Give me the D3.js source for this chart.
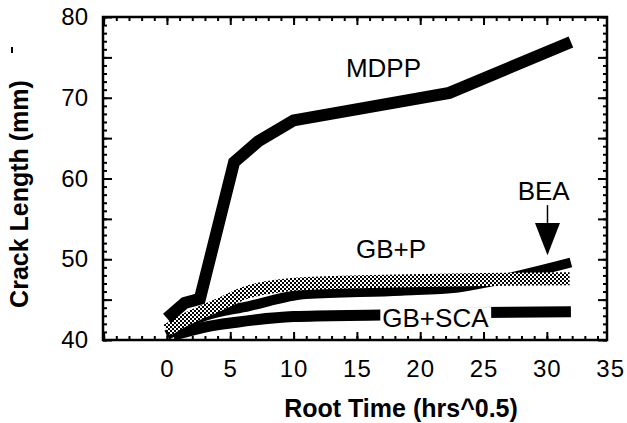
<!DOCTYPE html>
<meta charset="utf-8">
<style>
body{margin:0;background:#fff;}
text{font-family:"Liberation Sans",Arial,sans-serif;fill:#000;}
.tick text{font-size:24px;}
.axis path.domain{display:none;}
.axis line{stroke:#000;stroke-width:2px;}
.title{font-weight:bold;font-size:25px;text-anchor:middle;}
.lbl{font-size:26px;text-anchor:middle;}
.series{fill:none;stroke-linecap:butt;stroke-linejoin:miter;}
</style>
<body>
<script src="https://d3js.org/d3.v7.min.js"></script>
<script>

// crack length vs root time
var mdppX = [0, 1.4, 2.6, 5.3, 7.2, 10.0, 22.3, 31.9];
var mdppY = [42.7, 44.6, 45.1, 62.0, 64.6, 67.2, 70.6, 76.9];
var beaX = [0, 2.5, 6.5, 11, 18.5, 23, 25.5, 31.9];
var beaY = [40.6, 42.7, 44.2, 45.7, 46.1, 46.5, 47.2, 49.6];
var gbpX = [0, 1.3, 4, 6.5, 11, 18, 25, 31.8];
var gbpY = [41.2, 42.4, 44.3, 46.0, 47.0, 47.3, 47.5, 47.6];
var gbscaX = [0.5, 1.5, 3, 5.5, 10, 17, 25, 31.9];
var gbscaY = [40.6, 41.0, 41.6, 42.2, 42.9, 43.1, 43.4, 43.5];

var xLabels = [0, 5, 10, 15, 20, 25, 30, 35];
var yLabels = [40, 50, 60, 70, 80];

var svg = d3.select("body").append("svg").attr("width", 627).attr("height", 423);

var x = d3.scaleLinear().domain([-5.05, 34.75]).range([103, 607]);
var y = d3.scaleLinear().domain([40, 80]).range([340, 17]);

// halftone dots for the grey curve
var defs = svg.append("defs");
var pat = defs.append("pattern").attr("id","dots")
	.attr("patternUnits","userSpaceOnUse").attr("width",4).attr("height",4);
pat.append("rect").attr("width",4).attr("height",4).attr("fill","#fff");
pat.append("rect").attr("width",2).attr("height",2).attr("fill","#000");
pat.append("rect").attr("x",2).attr("y",2).attr("width",2).attr("height",2).attr("fill","#000");

var minorX = d3.range(-5, 35, 1), majorX = d3.range(-5, 35, 5);
var minorY = d3.range(40, 81, 1), majorY = d3.range(40, 81, 5);

function ticks(axis, vals, size){
	return axis.tickValues(vals).tickSize(size).tickFormat("");
}
var th = 340, tt = 17, tl = 103, tr = 607;
svg.append("g").attr("class","axis").attr("transform","translate(0,"+th+")").call(ticks(d3.axisBottom(x), minorX, -4));
svg.append("g").attr("class","axis").attr("transform","translate(0,"+th+")").call(ticks(d3.axisBottom(x), majorX, -8));
svg.append("g").attr("class","axis").attr("transform","translate(0,"+tt+")").call(ticks(d3.axisTop(x), minorX, -4));
svg.append("g").attr("class","axis").attr("transform","translate(0,"+tt+")").call(ticks(d3.axisTop(x), majorX, -8));
svg.append("g").attr("class","axis").attr("transform","translate("+tl+",0)").call(ticks(d3.axisLeft(y), minorY, -4));
svg.append("g").attr("class","axis").attr("transform","translate("+tl+",0)").call(ticks(d3.axisLeft(y), majorY, -9));
svg.append("g").attr("class","axis").attr("transform","translate("+tr+",0)").call(ticks(d3.axisRight(y), minorY, -4));
svg.append("g").attr("class","axis").attr("transform","translate("+tr+",0)").call(ticks(d3.axisRight(y), majorY, -9));

// tick labels
svg.append("g").attr("class","axis").attr("transform","translate(0,"+th+")")
	.call(d3.axisBottom(x).tickValues(xLabels).tickSize(0).tickPadding(20).tickFormat(d3.format("d")))
	.selectAll("text").style("letter-spacing","1px");
svg.append("g").attr("class","axis").attr("transform","translate("+tl+",0)")
	.call(d3.axisLeft(y).tickValues(yLabels).tickSize(0).tickPadding(15).tickFormat(d3.format("d")));

svg.append("rect").attr("x",tl).attr("y",tt).attr("width",tr-tl).attr("height",th-tt)
	.attr("fill","none").attr("stroke","#000").attr("stroke-width",2.5);

function pts(xs, ys){ return xs.map(function(d,i){ return [d, ys[i]]; }); }
var line = d3.line().x(d=>x(d[0])).y(d=>y(d[1]));
var smooth = d3.line().x(d=>x(d[0])).y(d=>y(d[1])).curve(d3.curveMonotoneX);

svg.append("path").attr("class","series").attr("d", smooth(pts(gbscaX, gbscaY)))
	.attr("stroke","#000").attr("stroke-width",11);
svg.append("path").attr("class","series").attr("d", smooth(pts(beaX, beaY)))
	.attr("stroke","#000").attr("stroke-width",10);
svg.append("path").attr("class","series").attr("d", smooth(pts(gbpX, gbpY)))
	.attr("stroke","url(#dots)").attr("stroke-width",13);
svg.append("path").attr("class","series").attr("d", line(pts(mdppX, mdppY)))
	.attr("stroke","#000").attr("stroke-width",12);

// labels
svg.append("text").attr("class","lbl").attr("x",x(17.1)).attr("y",y(72.6)).text("MDPP");
svg.append("text").attr("class","lbl").attr("x",x(17.7)).attr("y",y(50.2)).text("GB+P");
var sca = svg.append("text").attr("class","lbl").attr("x",x(21.2)).attr("y",y(41.6)).text("GB+SCA");
var bb = sca.node().getBBox();
svg.insert("rect", "text.lbl").attr("x",bb.x-2).attr("y",bb.y+4).attr("width",bb.width+4).attr("height",bb.height-8).attr("fill","#fff");
svg.append("text").attr("class","lbl").attr("x",x(29.75)).attr("y",y(57.3)).text("BEA");

// arrow to BEA
svg.append("line").attr("x1",x(30.05)).attr("x2",x(30.05)).attr("y1",y(56.7)).attr("y2",y(54.5))
	.attr("stroke","#000").attr("stroke-width",1.5);
svg.append("path").attr("d","M"+(x(30.05)-12.5)+","+y(54.5)+"L"+(x(30.05)+12.5)+","+y(54.5)+"L"+x(30.05)+","+y(50.5)+"Z")
	.attr("fill","#000");

// axis titles
svg.append("text").attr("class","title").attr("x",401).attr("y",417).text("Root Time (hrs^0.5)");
svg.append("text").attr("class","title").attr("transform","translate(28,194) rotate(-90)").text("Crack Length (mm)");
svg.append("line").attr("x1",12).attr("x2",12).attr("y1",47).attr("y2",53).attr("stroke","#000").attr("stroke-width",2);

</script>
</body>
